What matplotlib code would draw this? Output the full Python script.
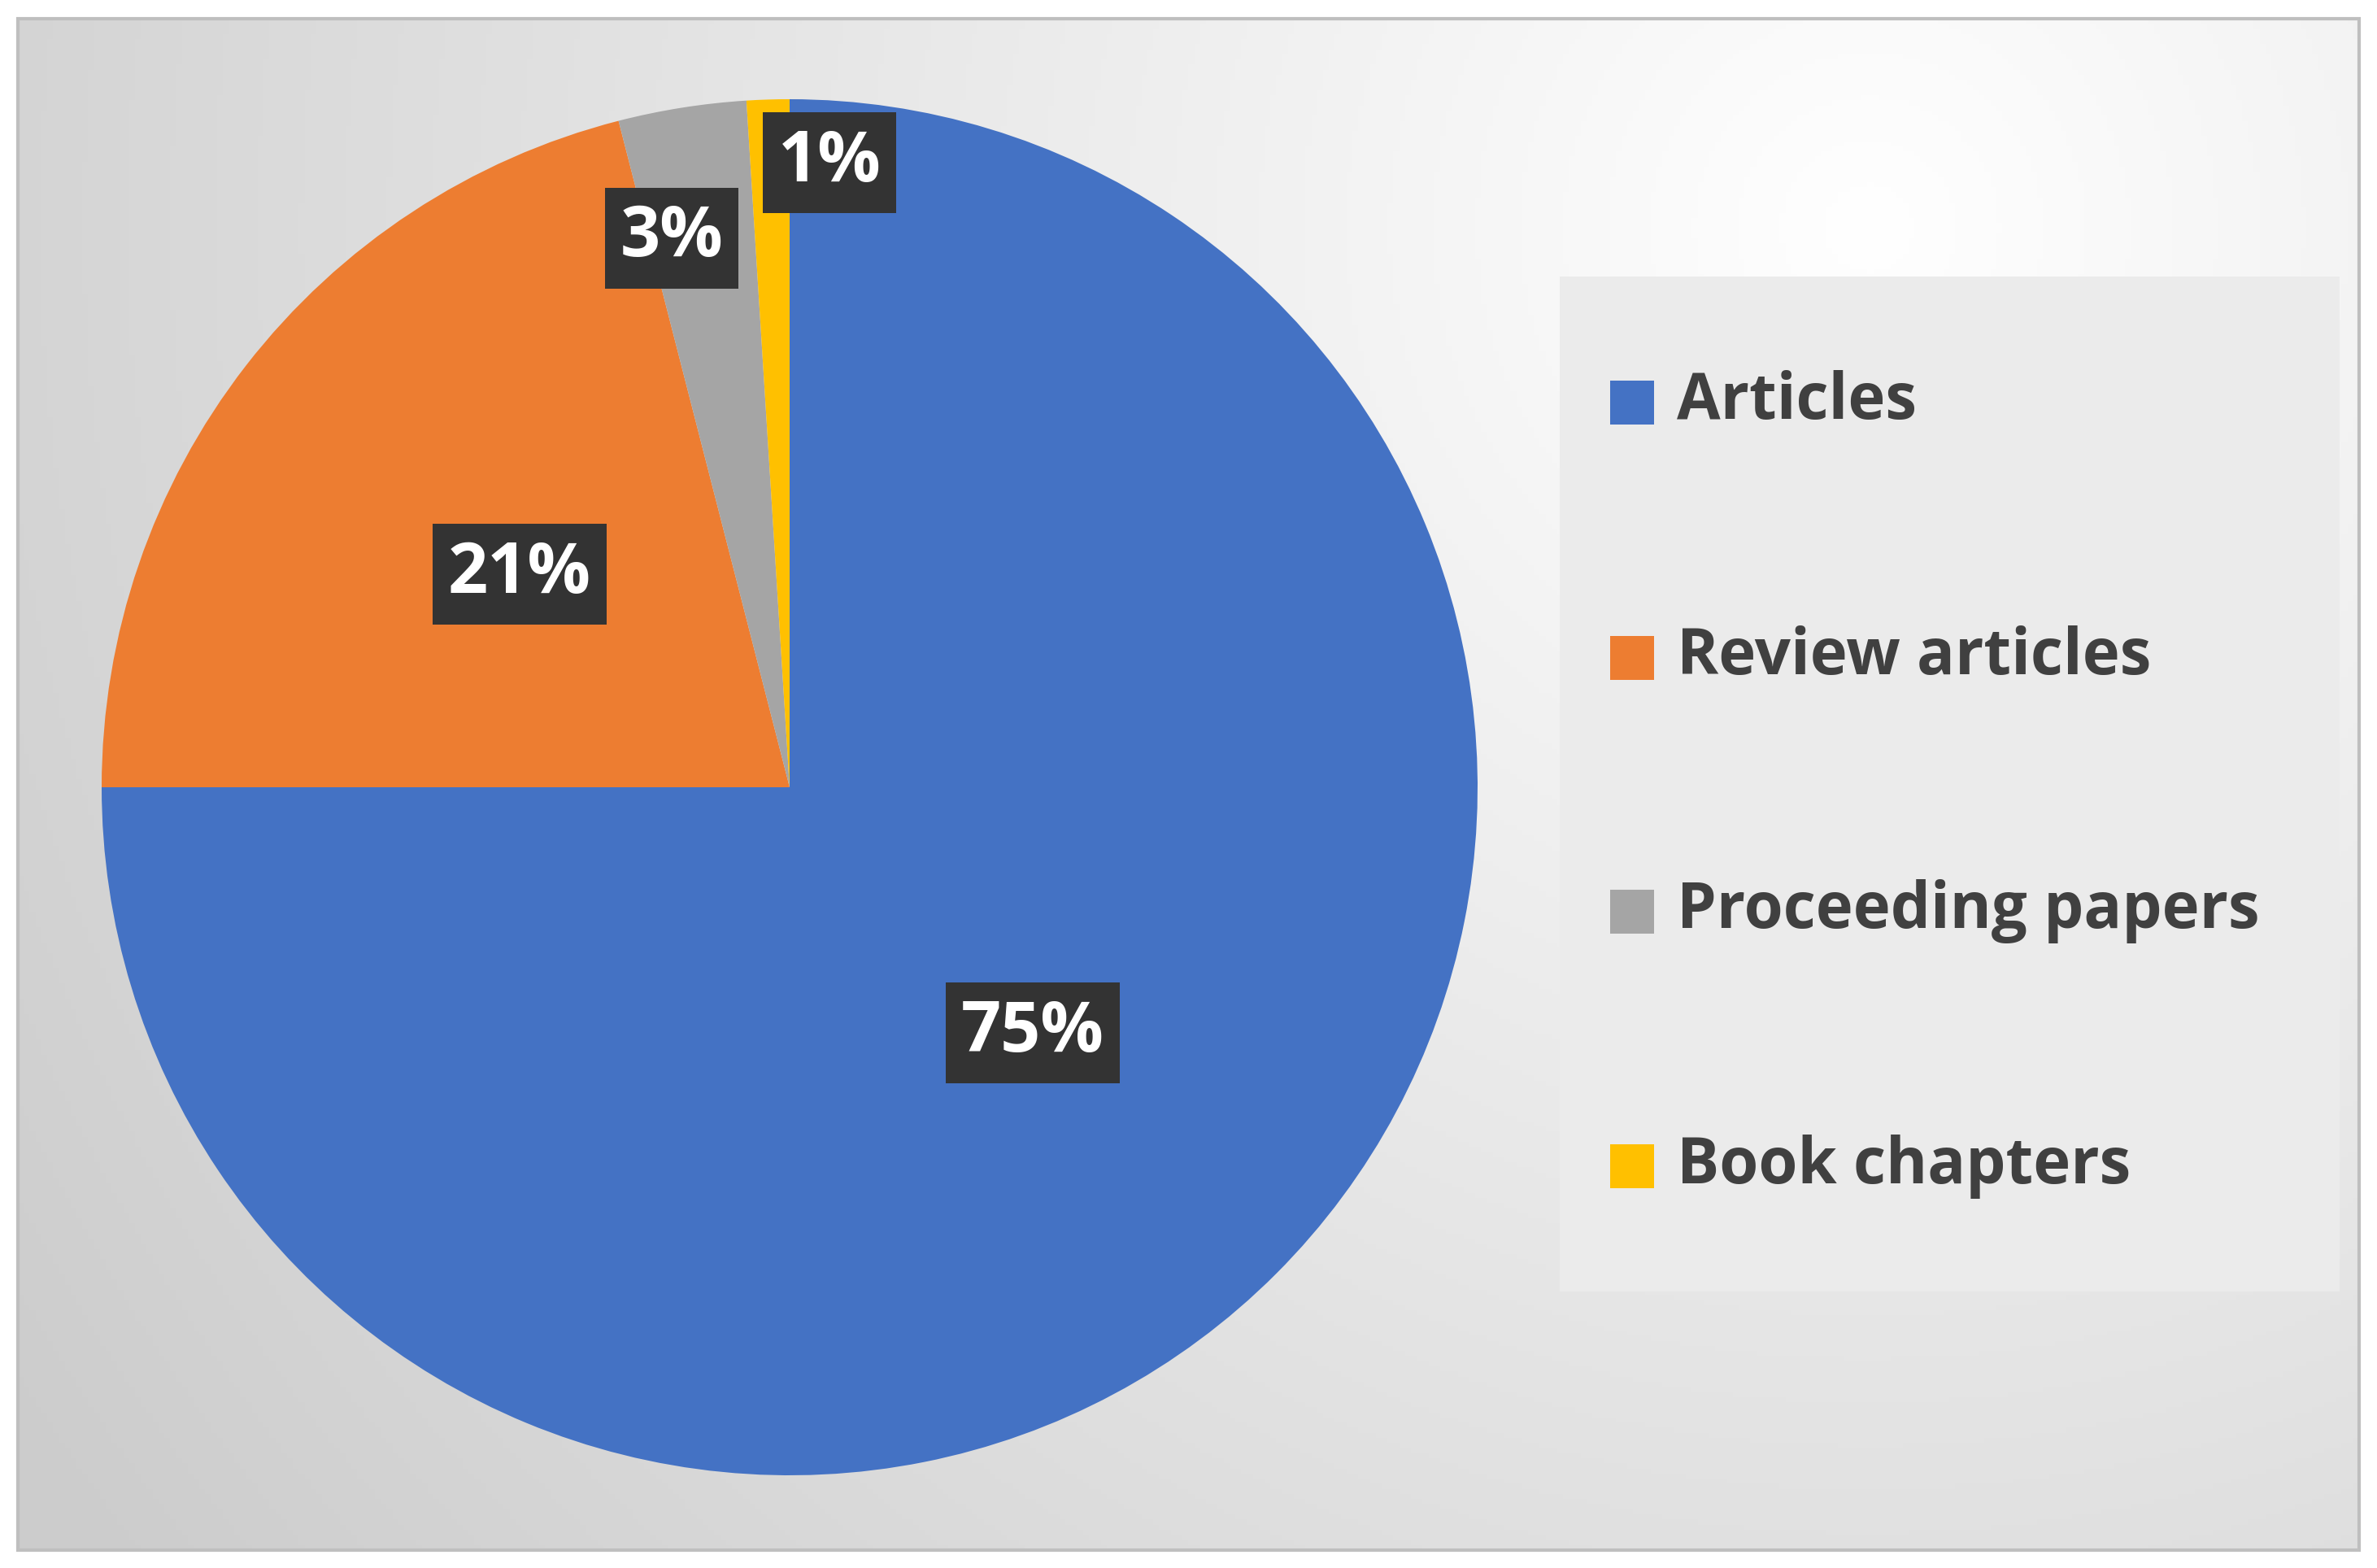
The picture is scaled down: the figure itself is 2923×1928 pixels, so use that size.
import numpy as np
import matplotlib.pyplot as plt
from matplotlib.patches import Rectangle

categories = ["Articles", "Review articles", "Proceeding papers", "Book chapters"]
shares = [75, 21, 3, 1]
colors = ["#4472C4", "#ED7D31", "#A5A5A5", "#FFC000"]
pct_labels = ["75%", "21%", "3%", "1%"]

W, H = 2923, 1928
fig = plt.figure(figsize=(W / 100, H / 100), dpi=100)
ax = fig.add_axes([0, 0, 1, 1])

# background: radial gradient, brightest at upper right
x0, x1, y0, y1 = 22, 2901, 22, 1905
xx, yy = np.meshgrid(np.linspace(x0, x1, 400), np.linspace(y1, y0, 300))
d = np.hypot(xx - 2300, yy - 1650) / 2600
shade = np.clip(1.0 - 0.19 * d, 0.80, 1.0)
img = np.dstack([shade, shade, shade])
ax.imshow(img, extent=(x0, x1, y0, y1), origin="upper", zorder=0, aspect="auto")
ax.add_patch(Rectangle((x0, y0), x1 - x0, y1 - y0, fill=False, ec="#bfbfbf", lw=3, zorder=1))

# pie
cx, cy, r = 971, 960, 846
ax.pie(shares, colors=colors, startangle=90, counterclock=False,
       center=(cx, cy), radius=r, frame=True,
       wedgeprops=dict(linewidth=0))
ax.set_xlim(0, W)
ax.set_ylim(0, H)
ax.set_aspect("equal")
ax.axis("off")

# percentage labels
label_pos = [(1270, 658), (639, 1222), (826, 1635), (1020, 1728)]
for (lx, ly), t in zip(label_pos, pct_labels):
    ax.text(lx, ly, t, ha="center", va="center", color="white", fontsize=62,
            fontweight="bold", family="Open Sans", zorder=5,
            bbox=dict(boxstyle="square,pad=0.22", fc="#333333", ec="none"))

# legend box
ax.add_patch(Rectangle((1918, 340), 2877 - 1918, 1588 - 340, fc="#ebebeb", ec="none", zorder=2))
leg_y = [1433, 1119, 807, 494]
for c, name, y in zip(colors, categories, leg_y):
    ax.add_patch(Rectangle((1980, y - 27), 54, 54, fc=c, ec="none", zorder=3))
    ax.text(2062, y, name, ha="left", va="center", fontsize=56, fontweight="bold",
            family="Open Sans", color="#404040", zorder=3)

fig.savefig("out.png", dpi=100)
